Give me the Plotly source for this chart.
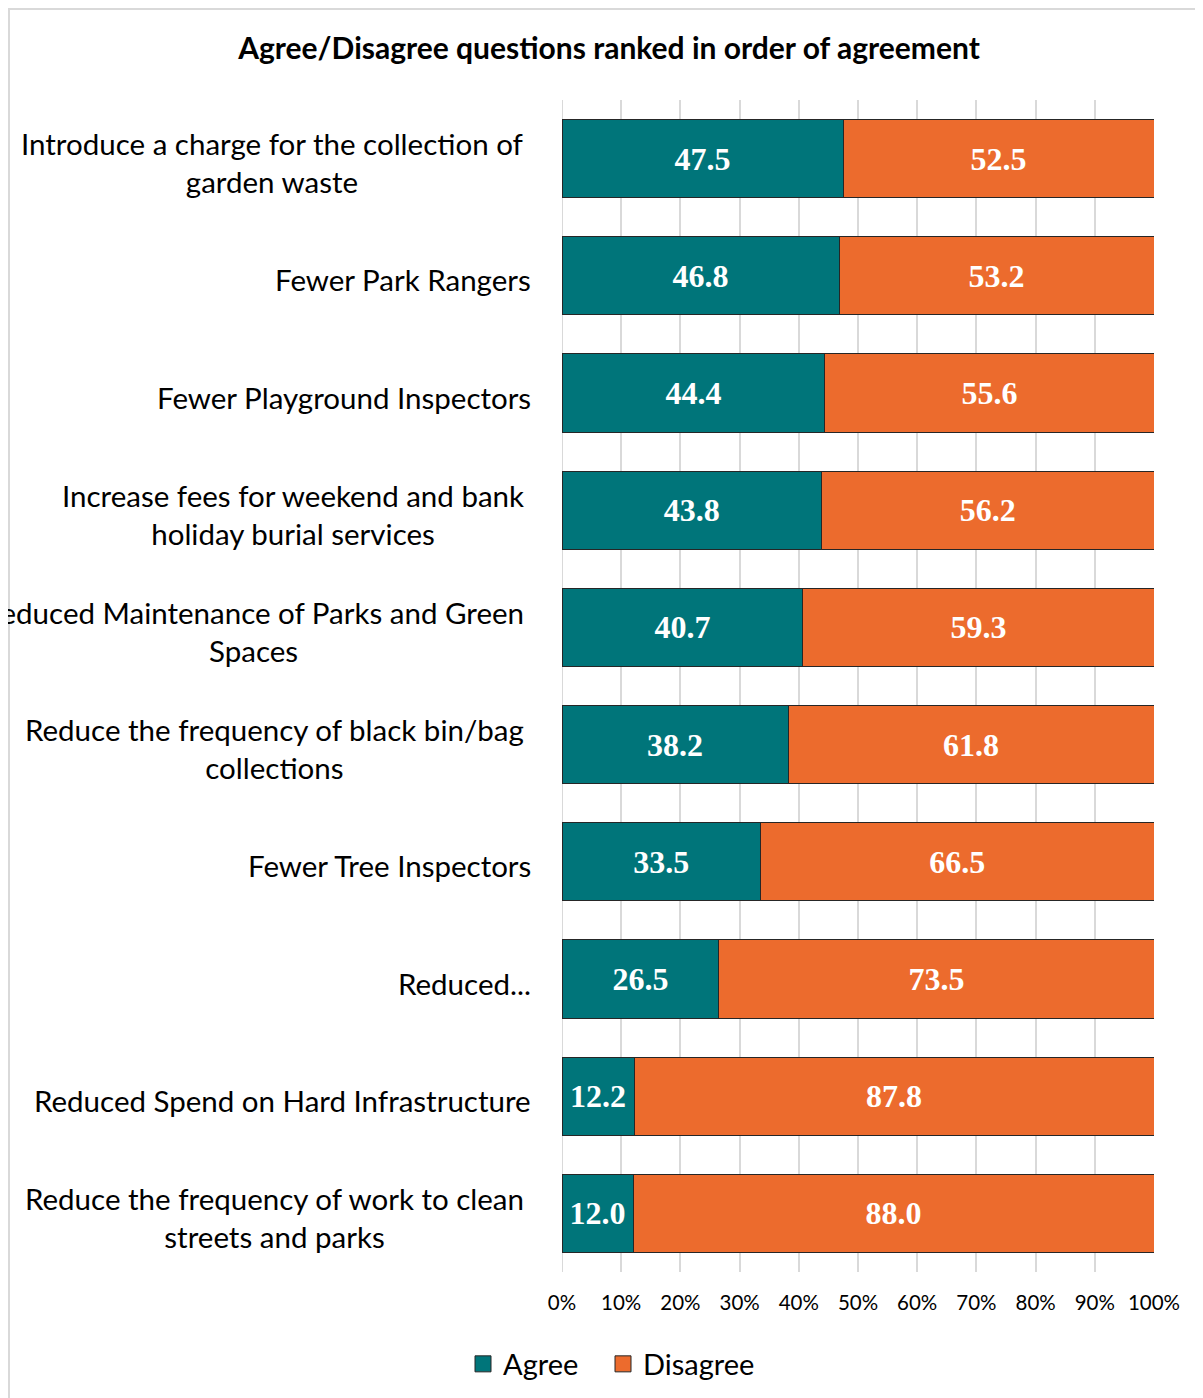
import plotly.graph_objects as go

categories = [
    "Introduce a charge for the collection of<br>garden waste",
    "Fewer Park Rangers",
    "Fewer Playground Inspectors",
    "Increase fees for weekend and bank<br>holiday burial services",
    "Reduced Maintenance of Parks and Green<br>Spaces",
    "Reduce the frequency of black bin/bag<br>collections",
    "Fewer Tree Inspectors",
    "Reduced...",
    "Reduced Spend on Hard Infrastructure",
    "Reduce the frequency of work to clean<br>streets and parks",
]
agree = [47.5, 46.8, 44.4, 43.8, 40.7, 38.2, 33.5, 26.5, 12.2, 12.0]
disagree = [52.5, 53.2, 55.6, 56.2, 59.3, 61.8, 66.5, 73.5, 87.8, 88.0]
tick_vals = [0, 10, 20, 30, 40, 50, 60, 70, 80, 90, 100]
tick_text = ["0%", "10%", "20%", "30%", "40%", "50%", "60%", "70%", "80%", "90%", "100%"]

TEAL = "#00757A"
ORANGE = "#EC6B2D"
OFF = 8  # page body margin
W, H = 1203 - OFF, 1398 - OFF
ML, MR, MT, MB = 562 - OFF, 49, 100 - OFF, 126
PW = W - ML - MR
PH = H - MT - MB

ids = list(range(len(categories)))

fig = go.Figure()
for name, vals, col, lg in [("Agree", agree, TEAL, "legend"), ("Disagree", disagree, ORANGE, "legend2")]:
    fig.add_trace(go.Bar(
        name=name, y=ids, x=vals, orientation="h", showlegend=False,
        marker=dict(color=col, line=dict(color="#262626", width=1)),
        width=0.667,
        text=[f"{v:.1f}" for v in vals],
        textposition="inside", insidetextanchor="middle", textangle=0,
        textfont=dict(family="Liberation Serif", size=32, color="white", weight="bold"),
        constraintext="none",
        hoverinfo="skip",
    ))
    # legend key (square swatch)
    fig.add_trace(go.Scatter(
        name=name, x=[None], y=[None], mode="markers", legend=lg,
        marker=dict(symbol="square", size=16, color=col, line=dict(color="#262626", width=1)),
        hoverinfo="skip",
    ))

annotations = []
for i, c in enumerate(categories):
    multi = "<br>" in c
    right_px = (526 if multi else 533) - OFF
    annotations.append(dict(
        text=c, xref="paper", yref="y", x=(right_px - ML) / PW, y=i,
        xanchor="right", yanchor="middle", align="center", showarrow=False,
        yshift=-4,
        font=dict(family="Lato", size=29.5, color="#000000"),
    ))

leg_common = dict(orientation="h", xanchor="left", y=-(1364 - 1272) / PH, yanchor="middle",
                  font=dict(family="Lato", size=29, color="#000000"), bgcolor="rgba(0,0,0,0)")

fig.update_layout(
    width=W, height=H,
    barmode="stack",
    margin=dict(l=ML, r=MR, t=MT, b=MB, autoexpand=False),
    paper_bgcolor="white", plot_bgcolor="white",
    title=dict(text="<b>Agree/Disagree questions ranked in order of agreement</b>",
               x=(609 - OFF) / W, xanchor="center", y=1 - (48 - OFF) / H, yanchor="middle",
               xref="container", yref="container",
               font=dict(family="Lato", size=30, color="#000000")),
    xaxis=dict(range=[0, 100], tickvals=tick_vals, ticktext=tick_text,
               showgrid=True, gridcolor="#D9D9D9", gridwidth=2,
               zeroline=False, showline=False, ticks="", ticklabelstandoff=16,
               tickfont=dict(family="Lato", size=20.5, color="#000000"), fixedrange=True),
    yaxis=dict(tickvals=ids, showticklabels=False, range=[len(categories) - 0.5, -0.5],
               showgrid=False, zeroline=False, showline=False, fixedrange=True),
    legend=dict(x=(463 - 562) / PW, **leg_common),
    legend2=dict(x=(603 - 562) / PW, **leg_common),
    annotations=annotations,
    shapes=[dict(type="rect", xref="paper", yref="paper",
                 x0=(1 - ML) / PW, x1=(W + 4 - ML) / PW,
                 y0=-(MB + 4) / PH, y1=1 + (MT - 1) / PH,
                 line=dict(color="#D9D9D9", width=2), fillcolor="rgba(0,0,0,0)", layer="below")],
    showlegend=True,
)
fig.add_shape(type="line", xref="x", yref="paper", x0=0, x1=0, y0=0, y1=1,
              line=dict(color="#D9D9D9", width=2), layer="below")

fig.write_html("out.html")
